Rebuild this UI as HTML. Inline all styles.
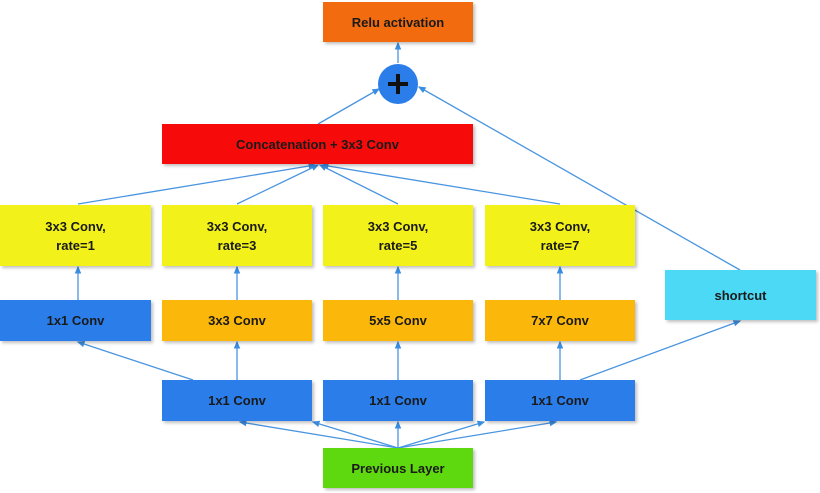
<!DOCTYPE html>
<html><head><style>
body{margin:0;background:#fff;width:820px;height:493px;position:relative;overflow:hidden;font-family:"Liberation Sans",sans-serif}
.b{position:absolute;display:flex;align-items:center;justify-content:center;text-align:center;font-weight:bold;font-size:13px;color:#1a1a1a;box-shadow:2px 2px 3px rgba(0,0,0,0.25);line-height:19px}
.y{background:#f2f21a}.bl{background:#2b7de9}.o{background:#fbb80a}
svg{position:absolute;left:0;top:0}
</style></head><body>
<svg width="820" height="493">
<defs><marker id="a" markerWidth="6" markerHeight="6" refX="5" refY="3" orient="auto"><path d="M0,0.5 L6,3 L0,5.5z" fill="#3a8de0"/></marker></defs>
<g stroke="#4a95e0" stroke-width="1.3" fill="none" marker-end="url(#a)">
<line x1="398" y1="63" x2="398" y2="43"/>
<line x1="318" y1="124" x2="379" y2="89"/>
<line x1="740" y1="270" x2="419" y2="87"/>
<line x1="78" y1="204" x2="315" y2="165"/>
<line x1="237" y1="204" x2="318" y2="165"/>
<line x1="398" y1="204" x2="320" y2="165"/>
<line x1="560" y1="204" x2="322" y2="165"/>
<line x1="78" y1="300" x2="78" y2="267"/>
<line x1="237" y1="300" x2="237" y2="267"/>
<line x1="398" y1="300" x2="398" y2="267"/>
<line x1="560" y1="300" x2="560" y2="267"/>
<line x1="193" y1="380" x2="78" y2="342"/>
<line x1="237" y1="380" x2="237" y2="342"/>
<line x1="398" y1="380" x2="398" y2="342"/>
<line x1="560" y1="380" x2="560" y2="342"/>
<line x1="580" y1="380" x2="740" y2="321"/>
<line x1="398" y1="448" x2="240" y2="422"/>
<line x1="398" y1="448" x2="398" y2="422"/>
<line x1="398" y1="448" x2="556" y2="422"/>
<line x1="398" y1="448" x2="313" y2="422"/>
<line x1="398" y1="448" x2="484" y2="422"/>
</g>
<circle cx="398" cy="84" r="20" fill="#2b7de9"/>
<path d="M388,84 H408 M398,74 V94" stroke="#111" stroke-width="4"/>
</svg>
<div class="b" style="left:323px;top:2px;width:150px;height:40px;background:#f26b0f">Relu activation</div>
<div class="b" style="left:162px;top:124px;width:311px;height:40px;background:#f70a0a">Concatenation + 3x3 Conv</div>
<div class="b y" style="left:0;top:205px;width:151px;height:61px">3x3 Conv,<br>rate=1</div>
<div class="b y" style="left:162px;top:205px;width:150px;height:61px">3x3 Conv,<br>rate=3</div>
<div class="b y" style="left:323px;top:205px;width:150px;height:61px">3x3 Conv,<br>rate=5</div>
<div class="b y" style="left:485px;top:205px;width:150px;height:61px">3x3 Conv,<br>rate=7</div>
<div class="b bl" style="left:0;top:300px;width:151px;height:41px">1x1 Conv</div>
<div class="b o" style="left:162px;top:300px;width:150px;height:41px">3x3 Conv</div>
<div class="b o" style="left:323px;top:300px;width:150px;height:41px">5x5 Conv</div>
<div class="b o" style="left:485px;top:300px;width:150px;height:41px">7x7 Conv</div>
<div class="b" style="left:665px;top:270px;width:151px;height:50px;background:#4cd9f5">shortcut</div>
<div class="b bl" style="left:162px;top:380px;width:150px;height:41px">1x1 Conv</div>
<div class="b bl" style="left:323px;top:380px;width:150px;height:41px">1x1 Conv</div>
<div class="b bl" style="left:485px;top:380px;width:150px;height:41px">1x1 Conv</div>
<div class="b" style="left:323px;top:448px;width:150px;height:40px;background:#5fd90f">Previous Layer</div>
</body></html>
